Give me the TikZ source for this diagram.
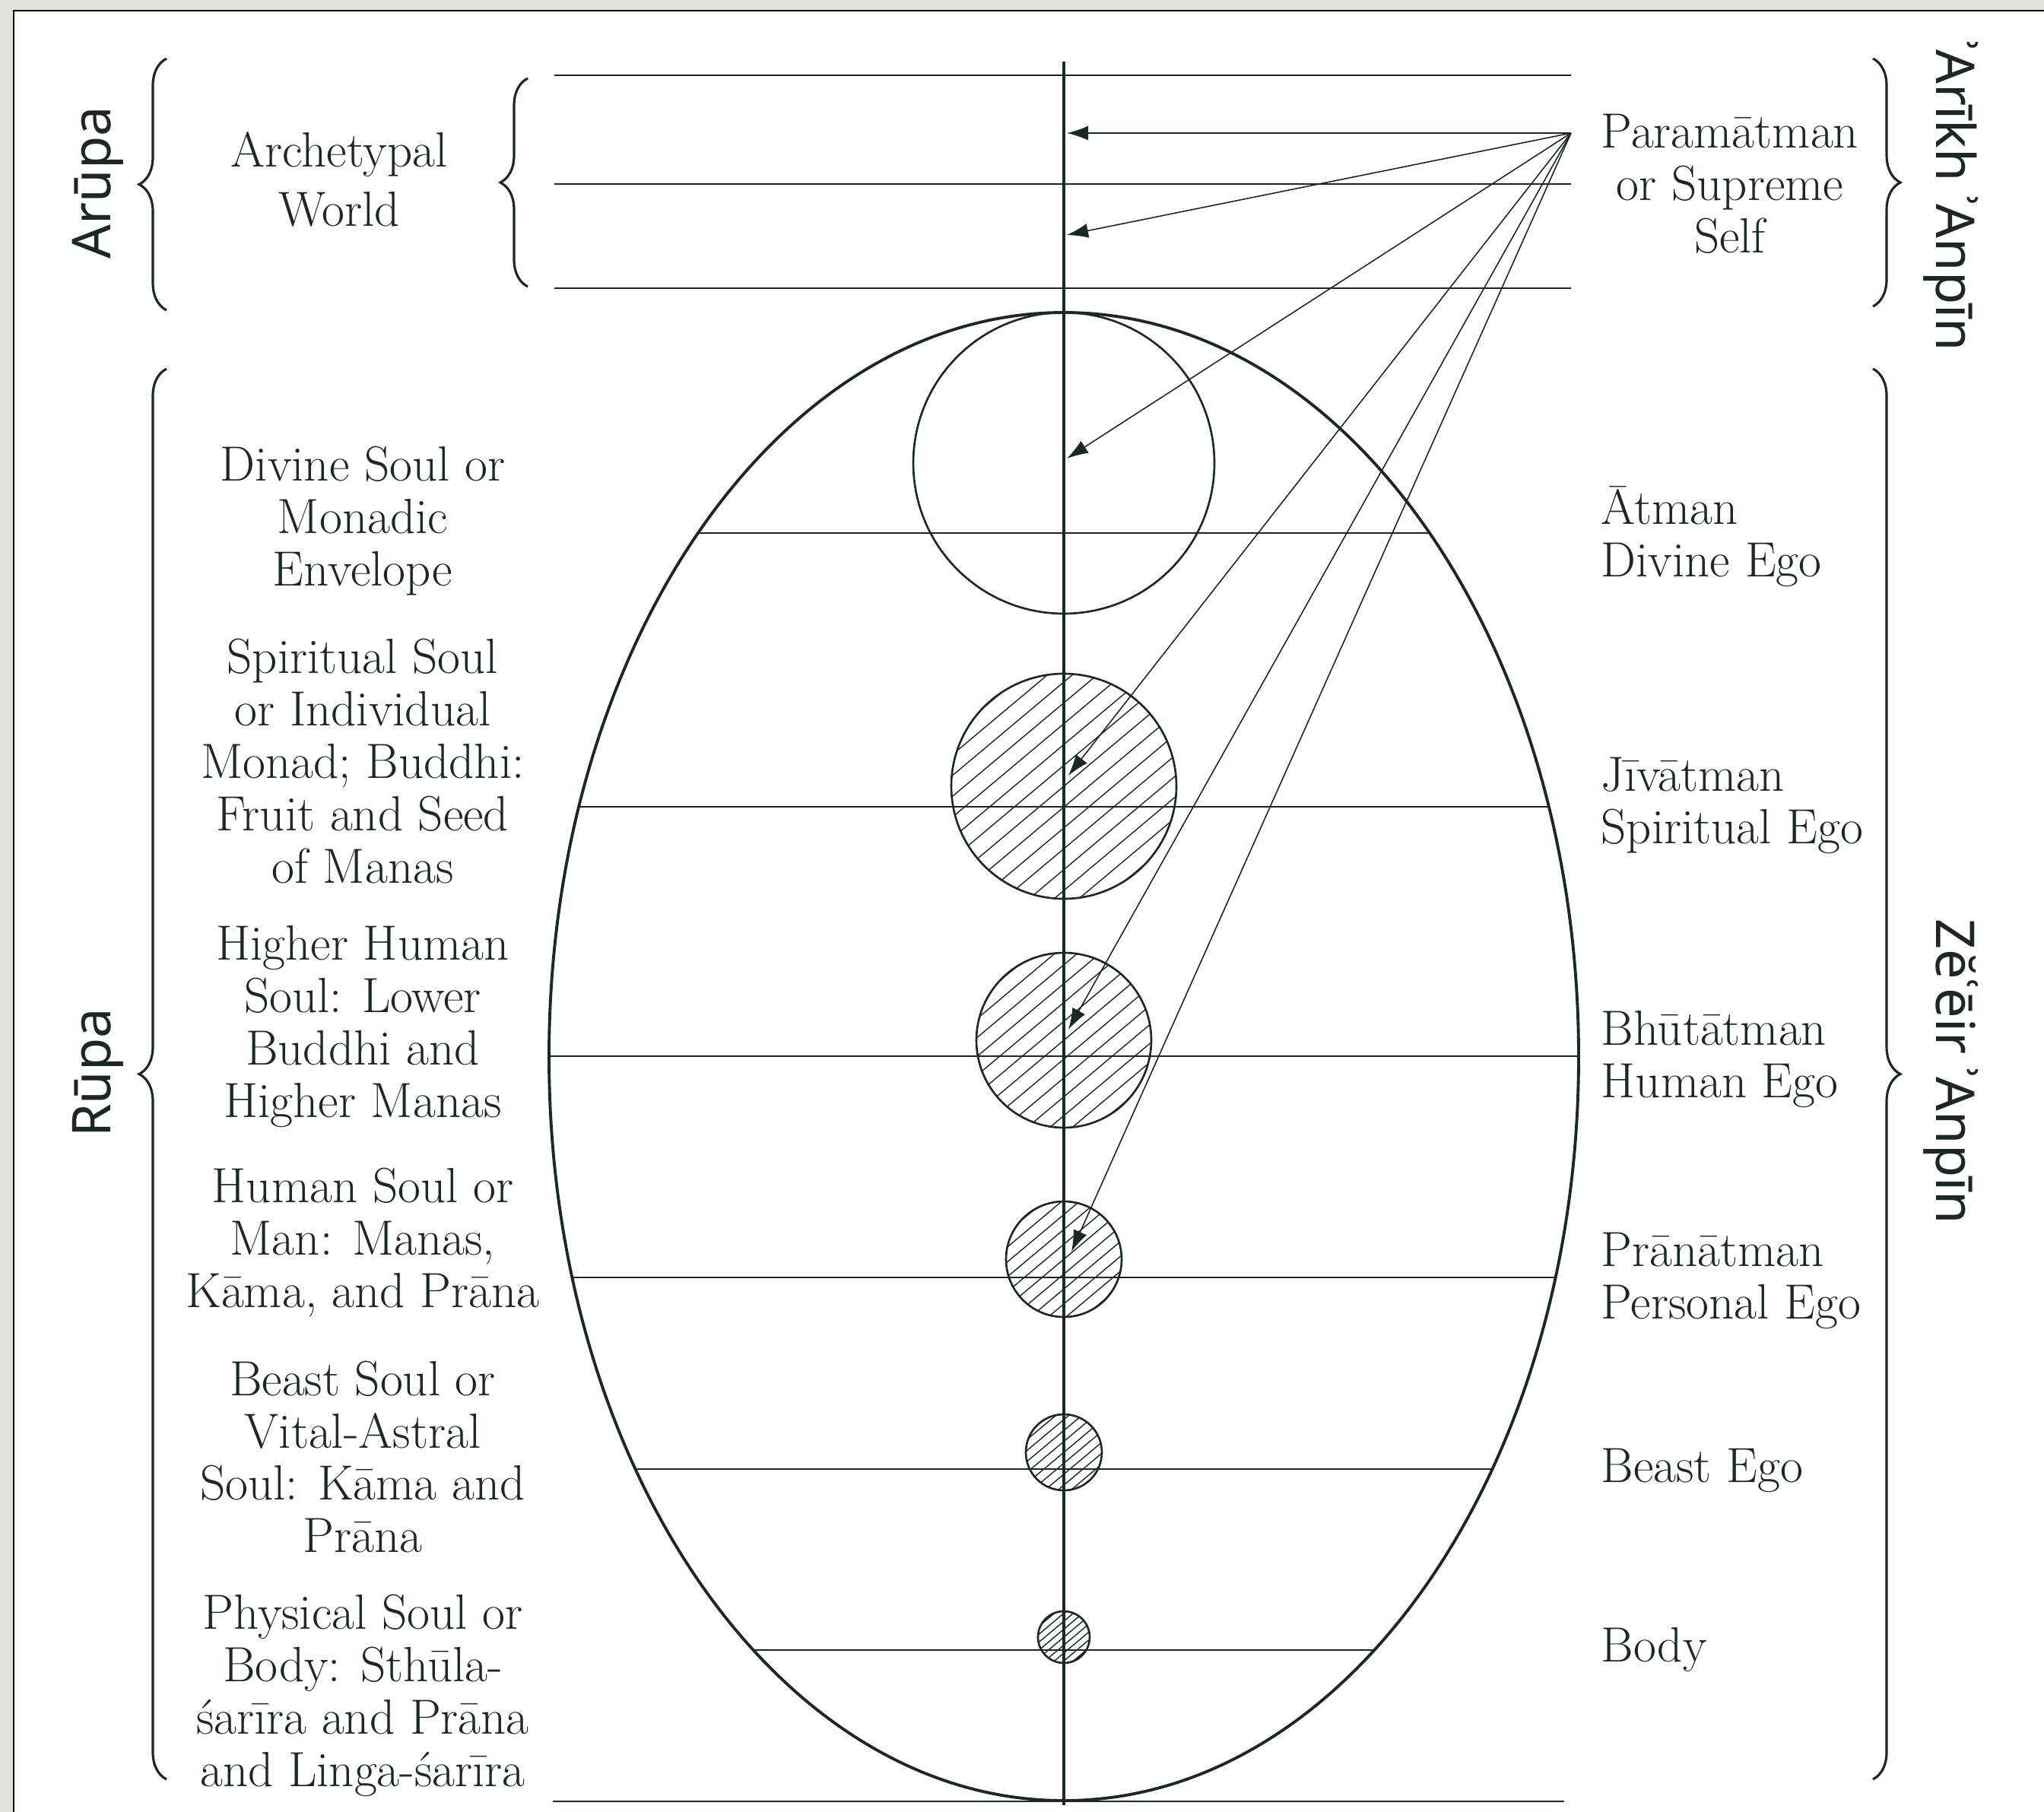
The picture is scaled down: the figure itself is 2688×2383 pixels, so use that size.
\documentclass[tikz,border=0pt]{standalone}
\usepackage{fontspec}
\newfontfamily\sidefont{Noto Sans}
\usetikzlibrary{arrows.meta, decorations.pathreplacing, positioning}

\definecolor{ink}{RGB}{28,40,36}
\definecolor{scanbg}{RGB}{226,226,221}

\begin{document}
\begin{tikzpicture}[
  x=0.1mm, y=-0.1mm,
  inkline/.style={draw=ink, line width=0.75pt},
  ray/.style={draw=ink, line width=0.45pt, -{Latex[length=2.8mm, width=1.9mm]}},
  hatchline/.style={draw=ink, line width=0.4pt},
  bracket/.style={draw=ink, line width=0.9pt, decorate, decoration={brace, amplitude=3.6mm}},
  soul/.style={font=\fontsize{18.5}{19.6}\selectfont, text=ink, align=center, inner sep=0pt},
  ego/.style={font=\fontsize{18.5}{19.6}\selectfont, text=ink, align=left, anchor=west, inner sep=0pt},
  side/.style={font=\sidefont\fontsize{20}{24}\selectfont, text=ink, inner sep=0pt}
]
  \useasboundingbox (0,0) rectangle (2688,2383);
  % scanned page edge
  \fill[scanbg] (0,0) rectangle (2688,2383);
  \fill[white] (18,14) rectangle (2688,2383);
  \draw[black, line width=0.8pt] (18,2383) -- (18,14) -- (2688,14);

  % archetypal levels
  \foreach \y in {99,242,379}
    \draw[inkline] (729,\y) -- (2066,\y);
  \draw[inkline] (727,2369) -- (2057,2369);

  % level chords inside the egg
  \begin{scope}
    \clip (1399,1389.5) ellipse[x radius=677, y radius=978.5];
    \foreach \y in {701,1061,1389,1680,1932,2170}
      \draw[inkline] (700,\y) -- (2100,\y);
  \end{scope}
  \draw[inkline, line width=1.1pt] (1399,1389.5) ellipse[x radius=677, y radius=978.5];

  % monadic envelope
  \draw[inkline] (1399,609) circle[radius=198];

  % hatched souls
  \foreach \cy/\r/\gap in {1034/148/21, 1368/115/19, 1656/76/15, 1910/50/11, 2153/34/8} {
    \begin{scope}
      \clip (1399,\cy) circle[radius=\r];
      \foreach \k in {-14,...,14}
        \draw[hatchline, shift={(1399,\cy)}, rotate=40] (-\r,\k*\gap) -- (\r,\k*\gap);
    \end{scope}
    \draw[inkline] (1399,\cy) circle[radius=\r];
  }

  % axis
  \draw[inkline, line width=1.1pt] (1399,81) -- (1399,2374);

  % rays of the supreme self
  \coordinate (src) at (2066,175);
  \coordinate (t1) at (1403,175);
  \coordinate (t2) at (1403,309);
  \coordinate (t3) at (1403,603);
  \coordinate (t4) at (1405,1020);
  \coordinate (t5) at (1405,1354);
  \coordinate (t6) at (1409,1646);
  \foreach \i in {1,...,6}
    \draw[ray] (src) -- (t\i);

  % right labels
  \node[soul] (paramatman) at (2275,242) {Paramātman\\or Supreme\\Self};
  \node[ego] (atman) at (2105,706) {Ātman\\Divine Ego};
  \node[ego] (jivatman) at (2105,1059) {Jīvātman\\Spiritual Ego};
  \node[ego] (bhutatman) at (2105,1393) {Bhūtātman\\Human Ego};
  \node[ego] (pranatman) at (2105,1684) {Prānātman\\Personal Ego};
  \node[ego] (beastego) at (2105,1934) {Beast Ego};
  \node[ego] (body) at (2105,2170) {Body};

  % left labels
  \node[soul, font=\fontsize{18.5}{22}\selectfont] (archworld) at (446,236) {Archetypal\\World};
  \node[soul] (divinesoul) at (477,685) {Divine Soul or\\Monadic\\Envelope};
  \node[soul] (spiritsoul) at (477,1001) {Spiritual Soul\\or Individual\\Monad; Buddhi:\\Fruit and Seed\\of Manas};
  \node[soul] (highsoul) at (477,1350) {Higher Human\\Soul: Lower\\Buddhi and\\Higher Manas};
  \node[soul] (humansoul) at (477,1634) {Human Soul or\\Man: Manas,\\Kāma, and Prāna};
  \node[soul] (beastsoul) at (477,1916) {Beast Soul or\\Vital-Astral\\Soul: Kāma and\\Prāna};
  \node[soul] (physsoul) at (477,2230) {Physical Soul or\\Body: Sthūla-\\śarīra and Prāna\\and Linga-śarīra};

  % braces
  \draw[bracket] (219,408) -- (219,77);
  \draw[bracket] (694,377) -- (694,103);
  \draw[bracket] (219,2340) -- (219,485);
  \draw[bracket] (2463,77) -- (2463,403);
  \draw[bracket] (2463,485) -- (2463,2340);

  \node[side, rotate=90] (arupa) at (129,240) {Arūpa};
  \node[side, rotate=90] (rupa) at (129,1411) {Rūpa};
  \node[side, rotate=-90] (arikh) at (2566,258) {ʾArīkh ʾAnpīn};
  \node[side, rotate=-90] (zeeir) at (2566,1409) {Zĕʿēir ʾAnpīn};
\end{tikzpicture}
\end{document}
